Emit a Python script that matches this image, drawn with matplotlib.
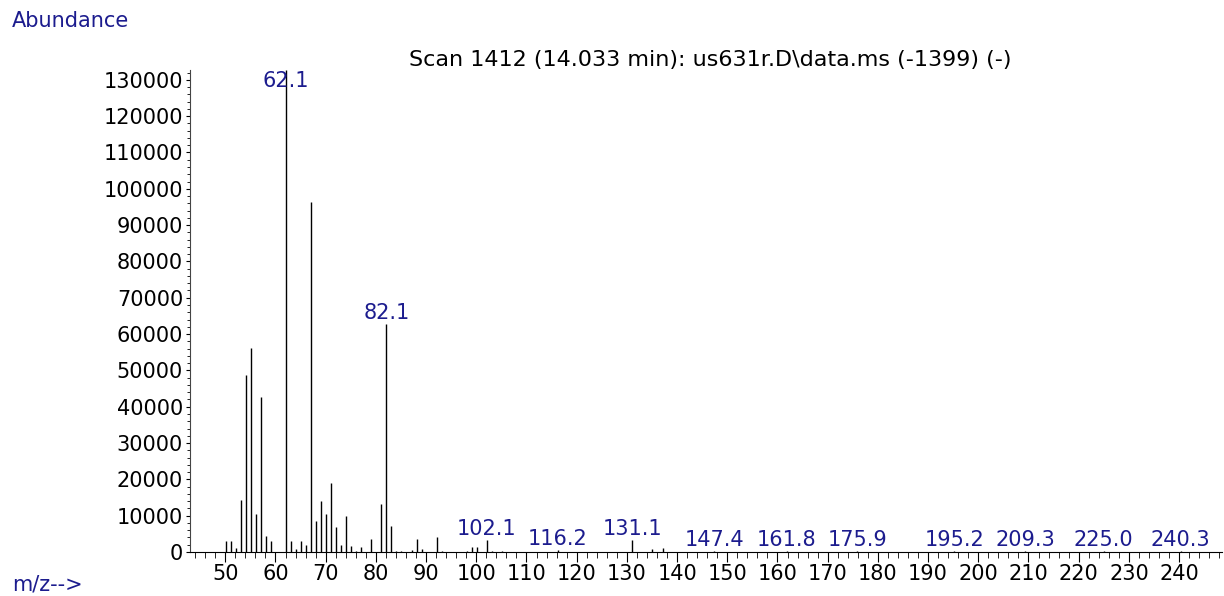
import matplotlib
matplotlib.use("Agg")
import matplotlib.pyplot as plt
from matplotlib.ticker import MultipleLocator, FormatStrFormatter

# spectrum data (m/z, abundance)
mz = [50.1, 51.1, 52.1, 53.1, 54.1, 55.1, 56.1, 57.1, 58.1, 59.1,
      62.1, 63.1, 64.1, 65.1, 66.1, 67.1, 68.1, 69.1, 70.1, 71.1,
      72.1, 73.1, 74.1, 75.1, 76.1, 77.1, 79.1, 81.1, 82.1, 83.1,
      84.1, 85.1, 87.1, 88.1, 89.1, 92.1, 93.1, 98.1, 99.1, 100.1,
      102.1, 103.1, 105.1, 116.2, 131.1, 135.1, 137.1, 147.4, 161.8,
      175.9, 195.2, 209.3, 225.0, 240.3]
abundance = [3000, 3000, 1200, 14300, 48800, 56200, 10500, 42700, 4400, 3000,
             132700, 3000, 700, 3000, 1900, 96300, 8600, 14100, 10500, 19100,
             7000, 1800, 9900, 1600, 400, 1400, 3500, 13200, 62800, 7100,
             300, 300, 500, 3500, 700, 4200, 300, 300, 1400, 1400,
             3400, 300, 300, 600, 3300, 800, 1000, 300, 300,
             300, 300, 300, 300, 300]

# peaks that get an m/z label
label_mz = [62.1, 82.1, 102.1, 116.2, 131.1, 147.4, 161.8, 175.9,
            195.2, 209.3, 225.0, 240.3]

title = "Scan 1412 (14.033 min): us631r.D\\data.ms (-1399) (-)"
navy = "#1c1c8e"

plt.rcParams['font.family'] = ['DejaVu Sans']

W, H = 1224, 596
fig = plt.figure(figsize=(W / 100, H / 100), dpi=100)
ax = fig.add_axes([190 / W, 1 - 552 / H, (1222 - 190) / W, (552 - 70) / H])

ymax = 132700
ax.vlines(mz, 0, abundance, color='black', lw=1.0)
ax.set_xlim(42.97, 248.55)
ax.set_ylim(0, ymax)

# peak labels
for m in label_mz:
    h = abundance[mz.index(m)]
    if h > 0.9 * ymax:
        ax.annotate("%.1f" % m, (m, ymax), xytext=(0, -1), textcoords='offset points',
                    ha='center', va='top', color=navy, fontsize=15, annotation_clip=False)
    else:
        ax.annotate("%.1f" % m, (m, h), xytext=(0, 0.5), textcoords='offset points',
                    ha='center', va='bottom', color=navy, fontsize=15, annotation_clip=False)

# axes styling
for s in ['top', 'right']:
    ax.spines[s].set_visible(False)
ax.spines['left'].set_color('#444444')
ax.spines['bottom'].set_color('black')

ax.xaxis.set_major_locator(MultipleLocator(10))
ax.xaxis.set_minor_locator(MultipleLocator(2))
ax.yaxis.set_major_locator(MultipleLocator(10000))
ax.yaxis.set_minor_locator(MultipleLocator(2000))
ax.xaxis.set_major_formatter(FormatStrFormatter('%d'))
ax.yaxis.set_major_formatter(FormatStrFormatter('%d'))
ax.set_xticks([t for t in range(50, 250, 10)])

ax.tick_params(axis='x', which='major', length=7, pad=2, labelsize=15)
ax.tick_params(axis='x', which='minor', length=4)
ax.tick_params(axis='y', which='major', length=3, pad=2, labelsize=15)
ax.tick_params(axis='y', which='minor', length=2)

fig.text(710 / W, 1 - 66 / H, title, ha='center', va='baseline', fontsize=16, color='black')
fig.text(12 / W, 1 - 27 / H, "Abundance", ha='left', va='baseline', fontsize=15, color=navy)
fig.text(12 / W, 1 - 590 / H, "m/z-->", ha='left', va='baseline', fontsize=15, color=navy)

fig.savefig("out.png", dpi=100)
